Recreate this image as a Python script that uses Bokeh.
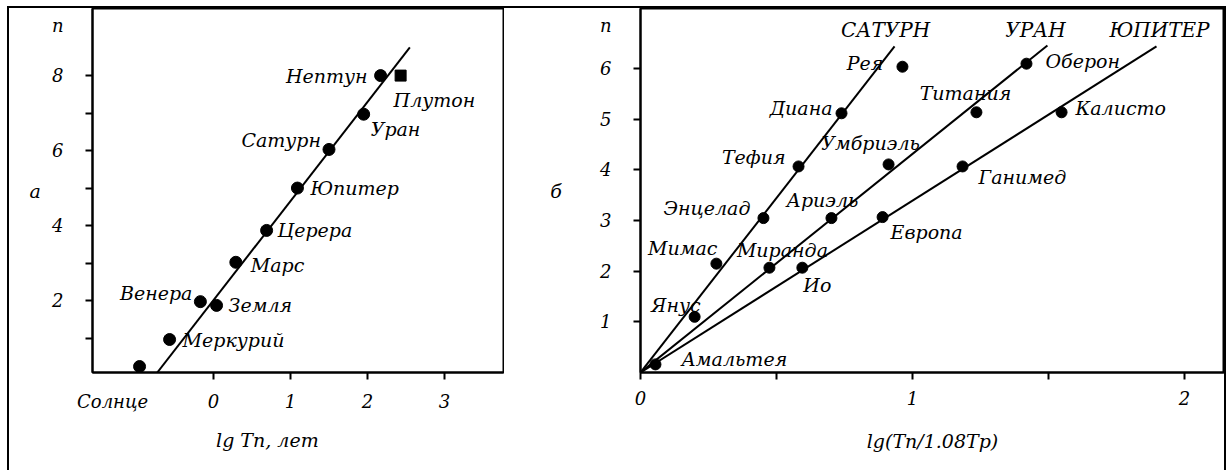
from bokeh.plotting import figure
from bokeh.layouts import row, column
from bokeh.models import (ColumnDataSource, FixedTicker, Range1d, LinearAxis,
                          Div, Spacer)
from bokeh.core.properties import value
from bokeh.embed import file_html
from bokeh.resources import INLINE

FONT = "DejaVu Serif"

# ---- panel a: planets, n versus lg of the orbital period (years) ----
planet_names = ["Солнце", "Меркурий", "Венера", "Земля", "Марс", "Церера",
                "Юпитер", "Сатурн", "Уран", "Нептун", "Плутон"]
planet_lgT = [-0.96, -0.57, -0.17, 0.04, 0.29, 0.69, 1.09, 1.50, 1.95, 2.17, 2.43]
planet_n = [0.24, 0.96, 1.97, 1.87, 3.02, 3.87, 5.00, 6.03, 6.97, 8.00, 8.00]
planet_fit_lgT = [-0.73, 2.55]
planet_fit_n = [0.08, 8.75]
planet_x_ticks = [0, 1, 2, 3]
planet_y_ticks = [2, 4, 6, 8]

# ---- panel b: satellites of Saturn, Uranus and Jupiter ----
saturn_names = ["Янус", "Мимас", "Энцелад", "Тефия", "Диана", "Рея"]
saturn_lg = [0.199, 0.279, 0.452, 0.581, 0.739, 0.963]
saturn_n = [1.10, 2.15, 3.05, 4.07, 5.12, 6.04]
saturn_fit_lg = [0.0, 0.934]
saturn_fit_n = [0.0, 6.44]

uranus_names = ["Миранда", "Ариэль", "Умбриэль", "Титания", "Оберон"]
uranus_lg = [0.474, 0.702, 0.912, 1.235, 1.419]
uranus_n = [2.07, 3.05, 4.11, 5.14, 6.10]
uranus_fit_lg = [0.0, 1.496]
uranus_fit_n = [0.0, 6.46]

jupiter_names = ["Амальтея", "Ио", "Европа", "Ганимед", "Калисто"]
jupiter_lg = [0.055, 0.595, 0.890, 1.184, 1.548]
jupiter_n = [0.16, 2.07, 3.07, 4.07, 5.14]
jupiter_fit_lg = [0.0, 1.897]
jupiter_fit_n = [0.0, 6.44]

family_titles = ["САТУРН", "УРАН", "ЮПИТЕР"]
moon_x_ticks = [0, 1, 2]
moon_x_minor = [0.5, 1.5]
moon_y_ticks = [1, 2, 3, 4, 5, 6]

# label placement: name -> (alignment, dx px, dy px; dy positive = downwards)
LABEL_POS = {
    "Меркурий": ("left", 13, 0),
    "Венера": ("right", -8, -9), "Земля": ("left", 12, 0),
    "Марс": ("left", 15, 3), "Церера": ("left", 11, 0),
    "Юпитер": ("left", 13, 0), "Сатурн": ("right", -8, -9),
    "Уран": ("left", 7, 15), "Нептун": ("right", -13, 0),
    "Плутон": ("left", -7, 24),
    "Янус": ("right", 6, -12), "Мимас": ("right", 1, -16),
    "Энцелад": ("right", -13, -10), "Тефия": ("right", -13, -9),
    "Диана": ("right", -9, -5), "Рея": ("right", -19, -4),
    "Миранда": ("center", 13, -18), "Ариэль": ("center", -9, -18),
    "Умбриэль": ("center", -18, -21), "Титания": ("center", -11, -19),
    "Оберон": ("left", 19, -3),
    "Амальтея": ("left", 26, -5), "Ио": ("left", 1, 17),
    "Европа": ("left", 8, 15), "Ганимед": ("left", 16, 11),
    "Калисто": ("left", 14, -4),
    "САТУРН": ("center", -9, -16), "УРАН": ("center", -12, -15),
    "ЮПИТЕР": ("center", 3, -16),
}


def add_labels(p, names, xs, ys, size="19px"):
    for align in ("left", "right", "center"):
        idx = [i for i, nm in enumerate(names)
               if nm in LABEL_POS and LABEL_POS[nm][0] == align]
        if not idx:
            continue
        src = ColumnDataSource(dict(
            x=[xs[i] for i in idx], y=[ys[i] for i in idx],
            t=[names[i] for i in idx],
            dx=[LABEL_POS[names[i]][1] for i in idx],
            dy=[LABEL_POS[names[i]][2] for i in idx],
        ))
        p.text(x="x", y="y", text="t", x_offset="dx", y_offset="dy", source=src,
               text_font=value(FONT), text_font_style="italic",
               text_font_size=size, text_align=align, text_baseline="middle",
               text_color="black")


def style_axis(ax, standoff):
    # visible tick marks are drawn as minor ticks; major ticks carry labels only
    ax.axis_line_width = 2
    ax.axis_line_color = "black"
    ax.major_tick_in = 0
    ax.major_tick_out = 0
    ax.major_tick_line_color = None
    ax.minor_tick_in = 0
    ax.minor_tick_out = 7
    ax.minor_tick_line_width = 2
    ax.minor_tick_line_color = "black"
    ax.major_label_text_font = FONT
    ax.major_label_text_font_style = "italic"
    ax.major_label_text_font_size = "18px"
    ax.major_label_text_color = "black"
    ax.major_label_standoff = standoff
    ax.axis_label_text_font = FONT
    ax.axis_label_text_font_style = "italic"
    ax.axis_label_text_font_size = "19px"
    ax.axis_label_text_color = "black"


def style_frame(p):
    p.grid.visible = False
    p.outline_line_color = "black"
    p.outline_line_width = 2
    p.background_fill_color = "white"
    p.border_fill_color = "white"


def labelled_ticker(major, minor, extra=None):
    ticks = list(major) + ([extra[0]] if extra else [])
    return FixedTicker(ticks=ticks, minor_ticks=list(minor))


# ---------------- panel a ----------------
pa = figure(width=495, height=462, output_backend="svg", toolbar_location=None,
            x_range=Range1d(-1.571, 3.766), y_range=Range1d(0.08, 9.79),
            min_border_left=83, min_border_right=1, min_border_top=0,
            min_border_bottom=98)
style_frame(pa)
style_axis(pa.xaxis[0], 11)
style_axis(pa.yaxis[0], 22)
# Sun's name sits under the axis, n heads the vertical axis
pa.xaxis.ticker = labelled_ticker(planet_x_ticks, planet_x_ticks, (-1.31,))
pa.xaxis.major_label_overrides = {-1.31: "Солнце"}
pa.yaxis.ticker = labelled_ticker(planet_y_ticks, range(1, 9), (9.33,))
pa.yaxis.major_label_overrides = {9.33: "n"}
pa.yaxis.axis_label = "а"
pa.yaxis.axis_label_orientation = "horizontal"
pa.yaxis.axis_label_standoff = 8

title_a = LinearAxis(ticker=FixedTicker(ticks=[0.70]),
                     major_label_overrides={0.70: "lg Tn, лет"})
style_axis(title_a, 14)
title_a.axis_line_color = None
title_a.minor_tick_line_color = None
title_a.major_label_text_font_size = "19px"
pa.add_layout(title_a, "below")

pa.line(planet_fit_lgT, planet_fit_n, line_color="black", line_width=2)
circ = [i for i, nm in enumerate(planet_names) if nm != "Плутон"]
pa.scatter([planet_lgT[i] for i in circ], [planet_n[i] for i in circ],
           marker="circle", size=12, color="black")
pl = planet_names.index("Плутон")
pa.scatter([planet_lgT[pl]], [planet_n[pl]], marker="square", size=11, color="black")
add_labels(pa, planet_names, planet_lgT, planet_n)

# ---------------- panel b ----------------
pb = figure(width=720, height=462, output_backend="svg", toolbar_location=None,
            x_range=Range1d(0, 2.147), y_range=Range1d(0, 7.19),
            min_border_left=136, min_border_right=0, min_border_top=0,
            min_border_bottom=97)
style_frame(pb)
style_axis(pb.xaxis[0], 11)
style_axis(pb.yaxis[0], 22)
pb.xaxis.ticker = FixedTicker(ticks=moon_x_ticks, minor_ticks=moon_x_ticks + moon_x_minor)
pb.yaxis.ticker = labelled_ticker(moon_y_ticks, moon_y_ticks, (6.85,))
pb.yaxis.major_label_overrides = {6.85: "n"}
pb.yaxis.axis_label = "б"
pb.yaxis.axis_label_orientation = "horizontal"
pb.yaxis.axis_label_standoff = 35
pb.xaxis.axis_label = "lg(Tn/1.08Tp)"
pb.xaxis.axis_label_standoff = 22

for fx, fn in ((saturn_fit_lg, saturn_fit_n), (uranus_fit_lg, uranus_fit_n),
               (jupiter_fit_lg, jupiter_fit_n)):
    pb.line(fx, fn, line_color="black", line_width=2)
for xs, ys, names in ((saturn_lg, saturn_n, saturn_names),
                      (uranus_lg, uranus_n, uranus_names),
                      (jupiter_lg, jupiter_n, jupiter_names)):
    pb.scatter(xs, ys, marker="circle", size=11, color="black")
    add_labels(pb, names, xs, ys)

ends_x = [saturn_fit_lg[-1], uranus_fit_lg[-1], jupiter_fit_lg[-1]]
ends_n = [saturn_fit_n[-1], uranus_fit_n[-1], jupiter_fit_n[-1]]
add_labels(pb, family_titles, ends_x, ends_n, size="20px")


# ---------------- surrounding frame ----------------
def bar(w, h):
    return Div(text="", width=w, height=h, margin=0,
               styles={"background-color": "black", "padding": "0"})


def gap(w, h):
    return Spacer(width=w, height=h, margin=0)


top_edge = row(gap(7, 2), bar(1219, 2), gap(3, 2), spacing=0)
body = row(gap(7, 462), bar(2, 462), pa, pb, bar(2, 462), gap(3, 462), spacing=0)
layout = column(gap(1229, 6), top_edge, body, spacing=0)

open("out.html", "w").write(file_html(layout, INLINE))
